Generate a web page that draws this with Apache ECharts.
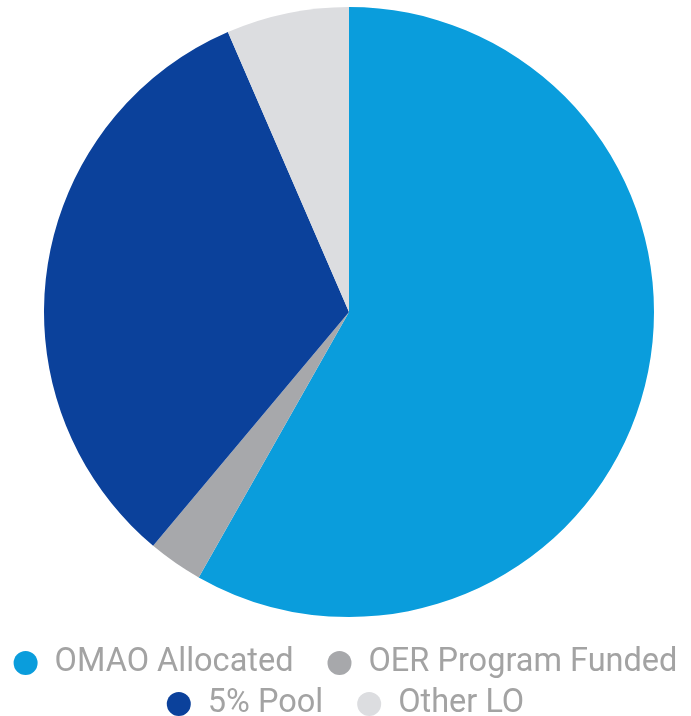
<!DOCTYPE html>
<html>
<head>
<meta charset="utf-8">
<script src="https://cdn.jsdelivr.net/npm/echarts@6/dist/echarts.min.js"></script>
<style>html,body{margin:0;padding:0;background:#fff;}#c{width:691px;height:716px;}</style>
</head>
<body>
<div id="c"></div>
<script>
const categories = ["OMAO Allocated", "OER Program Funded", "5% Pool", "Other LO"];
const values = [58.2, 2.9, 32.4, 6.5];
const colors = ["#0a9ddc", "#a7a8ab", "#0b419b", "#dcdde0"];

const chart = echarts.init(document.getElementById('c'));
const legendCommon = {
  orient: 'horizontal',
  left: 'center',
  icon: 'circle',
  itemWidth: 24,
  itemHeight: 24,
  itemGap: 34,
  padding: 0,
  textStyle: { color: '#a3a3a3', fontSize: 32.5, lineHeight: 34, fontFamily: 'Roboto', padding: [0, 0, 0, 12] }
};
chart.setOption({
  animation: false,
  color: colors,
  legend: [
    Object.assign({}, legendCommon, { top: 646, data: categories.slice(0, 2) }),
    Object.assign({}, legendCommon, { top: 687, data: categories.slice(2) })
  ],
  series: [{
    type: 'pie',
    center: [349, 312],
    radius: [0, 305],
    startAngle: 90,
    clockwise: true,
    label: { show: false },
    labelLine: { show: false },
    emphasis: { disabled: true },
    itemStyle: { borderWidth: 0 },
    data: categories.map((c, i) => ({ name: c, value: values[i] }))
  }]
});
</script>
</body>
</html>
